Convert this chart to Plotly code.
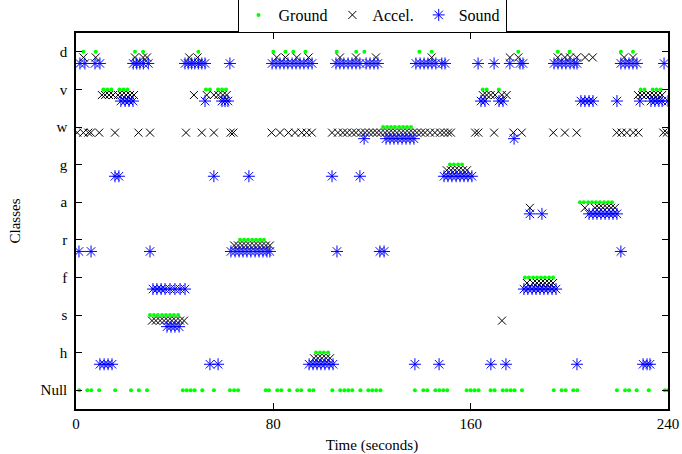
import plotly.graph_objects as go

classes = ["Null", "h", "s", "f", "r", "a", "g", "w", "v", "d"]
x_ticks = [0, 80, 160, 240]

# ---- Ground truth times (seconds) per class ----
ground_null = [1.3, 4.6, 6.2, 9.4, 15.9, 22.3, 25.5, 28.8, 43.3, 44.9, 46.5, 48.1, 51.2, 55.9, 62.4, 64.1, 65.7,
               76.9, 78.2, 81.6, 83.2, 86.5, 89.7, 91.3, 94.6, 96.2, 103.9, 107.1, 108.8, 110.4, 112.0, 115.3,
               118.5, 120.1, 121.7, 123.4, 137.4, 140.8, 142.4, 145.7, 147.3, 148.9, 150.5, 158.4, 160.0, 161.6,
               163.2, 168.1, 169.7, 173.0, 174.6, 176.2, 177.8, 180.8, 193.7, 196.9, 198.5, 201.6, 203.2, 219.3,
               222.6, 224.2, 227.3, 232.2, 238.7, 240.0]
ground_h = [97.3, 98.9, 100.5, 102.2]
ground_s = [30.0, 31.6, 33.2, 34.9, 36.5, 38.1, 39.7, 41.4]
ground_f = [182.0, 183.6, 185.3, 186.9, 188.5, 190.1, 191.8, 193.4]
ground_r = [66.5, 68.1, 69.7, 71.4, 73.0, 74.6, 76.2]
ground_a = [204.3, 205.9, 207.6, 209.2, 210.8, 212.4, 214.1, 215.7, 217.3]
ground_g = [151.6, 153.2, 154.9, 156.5]
ground_w = [124.5, 126.1, 127.7, 129.3, 131.0, 132.6, 134.2, 135.8]
ground_v = [11.1, 12.7, 14.3, 17.6, 19.2, 20.8, 52.7, 54.3, 57.6, 59.2, 60.8, 164.9, 166.5, 171.4,
            228.9, 230.5, 233.8, 235.4, 237.0]
ground_d = [3.0, 8.0, 23.9, 27.2, 49.6, 80.0, 84.9, 88.1, 93.0, 105.7, 113.6, 116.9, 139.2, 144.2,
            179.3, 195.3, 200.1, 220.9, 225.8]

# ---- Accelerometer classifier output ----
accel_null = []
accel_h = [96.5, 98.1, 99.7, 101.4, 103.0]
accel_s = [30.8, 32.4, 34.1, 35.7, 37.3, 38.9, 40.5, 42.2, 43.8, 172.7]
accel_f = [182.8, 185.3, 186.9, 188.5, 190.1, 191.8, 193.4]
accel_r = [64.1, 65.7, 67.3, 68.9, 70.5, 72.2, 73.8, 75.4, 77.0, 78.6]
accel_a = [184.0, 206.3, 210.4, 212.0, 213.6, 215.3, 216.9, 218.5]
accel_g = [150.3, 152.0, 153.6, 155.2, 156.9, 158.5]
accel_w = [0.5, 3.0, 5.0, 6.0, 9.4, 15.8, 25.3, 30.0, 44.6, 51.0, 55.9, 62.7, 63.8, 79.3, 82.7, 86.1, 88.8,
           91.5, 93.5, 95.6, 103.8, 106.2, 108.2, 109.9, 111.9, 113.5, 115.5, 117.2, 118.8, 120.4, 122.0,
           123.6, 125.3, 126.9, 128.5, 130.1, 131.8, 133.4, 135.0, 136.6, 138.2, 139.9, 141.5, 143.5, 145.5,
           147.6, 149.2, 150.8, 152.0, 161.8, 163.1, 169.5, 177.3, 180.7, 193.5, 198.2, 203.0, 219.2, 221.2,
           223.3, 225.9, 228.0, 238.1, 239.5]
accel_v = [10.5, 11.8, 13.4, 15.0, 17.0, 18.6, 20.3, 21.9, 23.5, 47.8, 53.0, 55.9, 57.7, 59.5, 61.1,
           164.9, 166.5, 168.1, 169.9, 172.6, 174.6, 227.8, 229.5, 231.1, 232.7, 234.3, 235.9, 237.6]
accel_d = [3.0, 8.0, 23.9, 27.2, 28.8, 45.9, 49.3, 81.4, 84.9, 89.5, 94.3, 107.0, 113.5, 121.6, 144.2,
           175.9, 179.3, 195.3, 198.2, 200.3, 203.0, 206.4, 209.5, 222.2, 225.8]

# ---- Sound classifier output ----
sound_null = []
sound_h = [9.7, 11.4, 13.0, 14.6, 54.3, 57.6, 94.5, 96.1, 97.7, 99.3, 100.9, 102.6, 104.2, 137.4, 147.2,
           168.2, 174.3, 203.1, 229.9, 231.5, 232.7]
sound_s = [36.9, 38.5, 40.1, 41.8]
sound_f = [31.2, 32.8, 34.5, 36.1, 38.1, 40.1, 42.2, 44.2, 181.6, 183.2, 184.9, 186.5, 188.1, 189.7,
           191.3, 193.0, 194.6]
sound_r = [1.2, 6.1, 30.0, 62.8, 64.5, 66.1, 67.7, 69.3, 70.9, 72.6, 74.2, 75.8, 77.4, 78.6, 105.8,
           123.2, 124.9, 220.9]
sound_a = [184.0, 188.9, 208.0, 209.6, 211.2, 212.8, 214.5, 216.1, 217.7, 219.3]
sound_g = [15.8, 17.4, 55.9, 70.1, 103.8, 115.1, 149.2, 150.8, 152.4, 154.1, 155.7, 157.3, 158.9, 160.5]
sound_w = [116.8, 125.7, 127.3, 128.9, 130.5, 132.2, 133.8, 135.4, 137.0, 177.6]
sound_v = [18.2, 19.9, 21.5, 23.1, 52.3, 59.2, 60.4, 61.6, 164.2, 165.8, 171.5, 173.1, 204.7, 206.3,
           208.0, 209.6, 219.3, 228.6, 233.1, 234.7, 236.3, 237.6, 240.0]
sound_d = [1.6, 3.6, 7.7, 9.7, 23.2, 24.6, 25.9, 27.3, 29.3, 44.2, 45.5, 46.9, 48.2, 49.6, 51.0, 52.3,
           62.4, 79.5, 81.1, 82.7, 84.3, 85.9, 87.6, 89.2, 90.8, 92.4, 94.1, 95.7, 105.4, 107.0, 108.6,
           110.3, 111.9, 113.5, 115.1, 117.6, 119.2, 120.8, 122.4, 137.8, 139.5, 141.1, 142.7, 144.3,
           145.9, 148.3, 149.6, 163.0, 169.5, 175.9, 180.0, 181.2, 193.8, 195.4, 197.0, 198.6, 200.3,
           201.9, 203.1, 220.9, 222.6, 224.2, 225.8, 227.4, 238.4]

ground = [ground_null, ground_h, ground_s, ground_f, ground_r, ground_a, ground_g, ground_w, ground_v, ground_d]
accel = [accel_null, accel_h, accel_s, accel_f, accel_r, accel_a, accel_g, accel_w, accel_v, accel_d]
sound = [sound_null, sound_h, sound_s, sound_f, sound_r, sound_a, sound_g, sound_w, sound_v, sound_d]


def flatten(per_class, offset):
    xs, ys = [], []
    for i, times in enumerate(per_class):
        xs.extend(times)
        ys.extend([i + offset] * len(times))
    return xs, ys


gx, gy = flatten(ground, 0.0)
ax_, ay = flatten(accel, -0.15)
sx, sy = flatten(sound, -0.31)

FONT = "Liberation Serif"

fig = go.Figure()
fig.add_trace(go.Scatter(x=gx, y=gy, mode="markers", name="Ground",
                         marker=dict(symbol="circle", size=4, color="#00ff00", line=dict(width=0))))
fig.add_trace(go.Scatter(x=ax_, y=ay, mode="markers", name="Accel.",
                         marker=dict(symbol="x-thin-open", size=8, color="black",
                                     line=dict(width=1, color="black"))))
fig.add_trace(go.Scatter(x=sx, y=sy, mode="markers", name="Sound",
                         marker=dict(symbol="asterisk-open", size=10, color="#0000ff",
                                     line=dict(width=1, color="#0000ff"))))

fig.update_layout(
    width=682, height=454,
    margin=dict(l=76, r=14, t=33, b=45, autoexpand=False),
    paper_bgcolor="white", plot_bgcolor="white",
    font=dict(family=FONT, size=15, color="black"),
    showlegend=True,
    hovermode=False,
    legend=dict(orientation="h", x=0.5, xanchor="center", y=1.0, yanchor="bottom",
                bgcolor="white", bordercolor="black", borderwidth=1,
                font=dict(family=FONT, size=16), itemwidth=30, tracegroupgap=0),
)
fig.update_xaxes(range=[0, 240], tickvals=x_ticks, ticktext=[str(v) for v in x_ticks],
                 showgrid=False, zeroline=False, showline=True, linecolor="black", linewidth=1.5,
                 mirror="ticks", ticks="inside", ticklen=6, tickcolor="black", automargin=False,
                 title=dict(text="Time (seconds)", font=dict(family=FONT, size=15), standoff=14))
fig.update_yaxes(range=[-0.5, 9.5], tickvals=list(range(len(classes))), ticktext=classes,
                 showgrid=False, zeroline=False, showline=True, linecolor="black", linewidth=1.5,
                 mirror="ticks", ticks="inside", ticklen=6, tickcolor="black", automargin=False,
                 ticklabelstandoff=4,
                 title=dict(text="Classes", font=dict(family=FONT, size=15), standoff=16))

fig.write_html("out.html")
